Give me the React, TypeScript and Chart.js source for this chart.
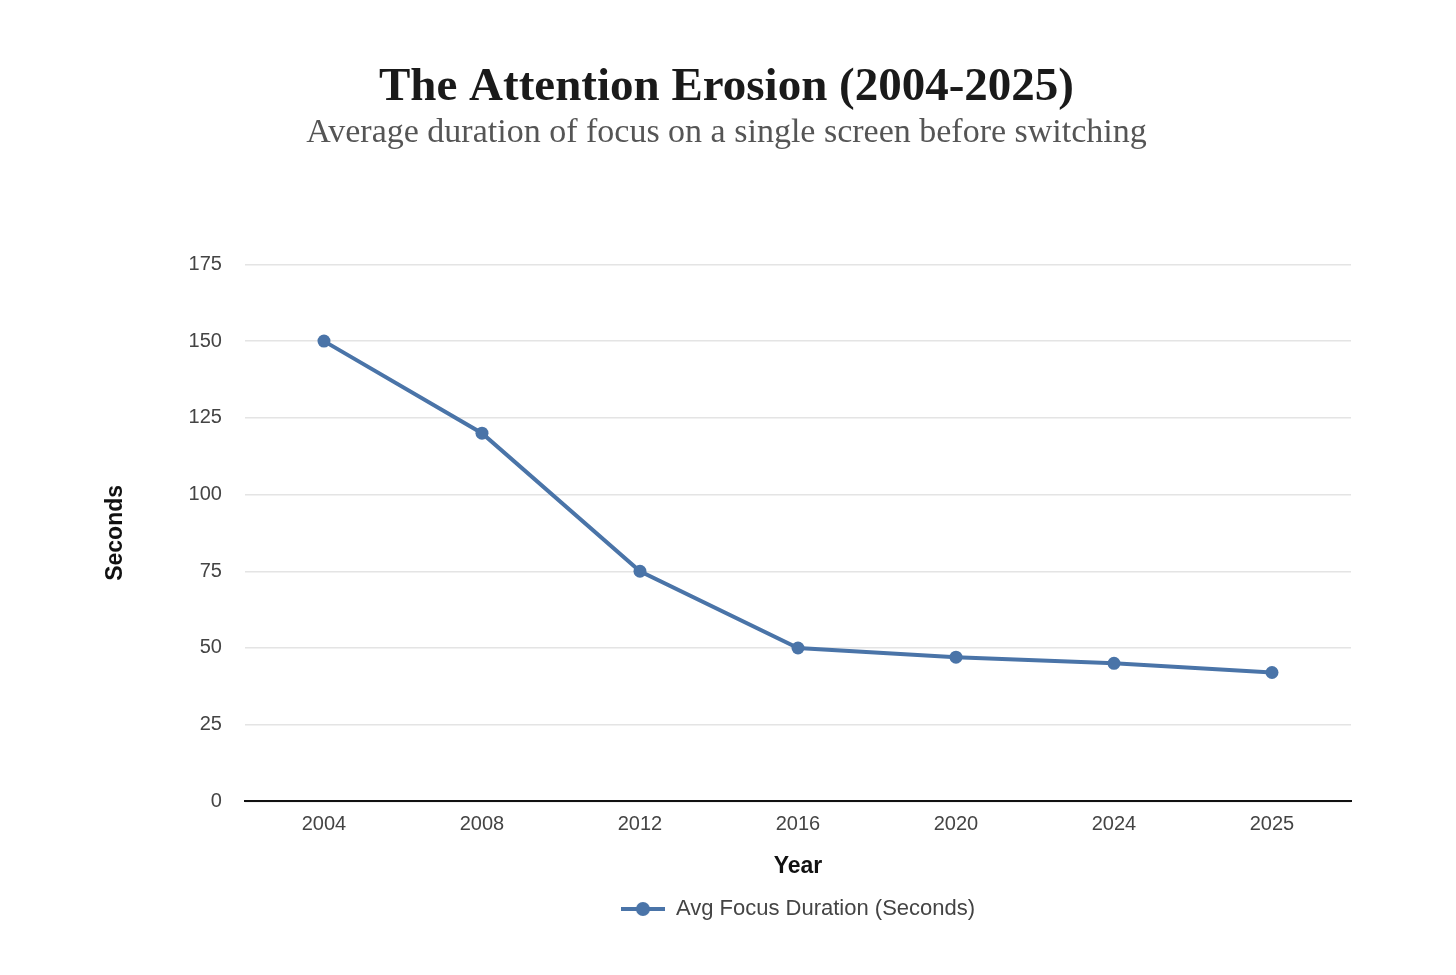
import React, { useEffect, useRef } from "react";
import { Chart, registerables } from "chart.js";

Chart.register(...registerables);

const years = ["2004", "2008", "2012", "2016", "2020", "2024", "2025"];
const focusSeconds = [150, 120, 75, 50, 47, 45, 42];
const seriesLabel = "Avg Focus Duration (Seconds)";
const titleText = "The Attention Erosion (2004-2025)";
const subtitleText = "Average duration of focus on a single screen before switching";
const yMin = 0;
const yMax = 175;
const yStep = 25;

const LINE = "#4a74a8";
const SANS = "'Liberation Sans', Arial, sans-serif";
const SERIF = "'Liberation Serif', serif";

function makeLegendIcon(): HTMLCanvasElement {
  const c = document.createElement("canvas");
  c.width = 44;
  c.height = 16;
  const ctx = c.getContext("2d")!;
  ctx.strokeStyle = LINE;
  ctx.lineWidth = 4;
  ctx.beginPath();
  ctx.moveTo(0, 8);
  ctx.lineTo(44, 8);
  ctx.stroke();
  ctx.fillStyle = LINE;
  ctx.beginPath();
  ctx.arc(22, 8, 7, 0, Math.PI * 2);
  ctx.fill();
  return c;
}

export default function App() {
  const ref = useRef<HTMLCanvasElement | null>(null);

  useEffect(() => {
    if (!ref.current) return;
    const icon = makeLegendIcon();
    const chart = new Chart(ref.current, {
      type: "line",
      data: {
        labels: years,
        datasets: [
          {
            label: seriesLabel,
            data: focusSeconds,
            borderColor: LINE,
            backgroundColor: LINE,
            borderWidth: 4,
            pointRadius: 6.5,
            pointBackgroundColor: LINE,
            pointBorderColor: LINE,
            pointBorderWidth: 0,
            tension: 0,
            fill: false,
          },
        ],
      },
      options: {
        animation: false,
        responsive: false,
        maintainAspectRatio: false,
        layout: { padding: { left: 102, right: 105, top: 0, bottom: 45 } },
        plugins: {
          title: {
            display: true,
            text: titleText,
            color: "#1a1a1a",
            font: { family: SERIF, size: 47, weight: "bold", lineHeight: 1.2 },
            padding: { top: 60, bottom: 0 },
          },
          subtitle: {
            display: true,
            text: subtitleText,
            color: "#555555",
            font: { family: SERIF, size: 34, weight: "normal", lineHeight: 1.0 },
            padding: { top: 0, bottom: 114 },
          },
          legend: {
            display: true,
            position: "bottom",
            fullSize: false,
            labels: {
              color: "#444444",
              font: { family: SANS, size: 22 },
              usePointStyle: true,
              pointStyleWidth: 44,
              padding: 10,
              generateLabels: (ch: any) =>
                ch.data.datasets.map((ds: any, i: number) => ({
                  text: ds.label,
                  fillStyle: LINE,
                  strokeStyle: LINE,
                  lineWidth: 0,
                  pointStyle: icon,
                  hidden: false,
                  datasetIndex: i,
                  fontColor: "#444444",
                })),
            },
          },
          tooltip: { enabled: false },
        },
        scales: {
          x: {
            offset: true,
            grid: { display: false, drawTicks: false },
            border: { display: true, color: "#111111", width: 2 },
            ticks: {
              color: "#444444",
              font: { family: SANS, size: 20 },
              padding: 11,
            },
            title: {
              display: true,
              text: "Year",
              color: "#111111",
              font: { family: SANS, size: 23, weight: "bold" },
              padding: { top: 5, bottom: 8 },
            },
          },
          y: {
            min: yMin,
            max: yMax,
            grid: { color: "#e4e4e4", lineWidth: 1.5, drawTicks: false },
            border: { display: false },
            ticks: {
              stepSize: yStep,
              color: "#444444",
              font: { family: SANS, size: 20 },
              padding: 23,
            },
            title: {
              display: true,
              text: "Seconds",
              color: "#111111",
              font: { family: SANS, size: 23, weight: "bold" },
              padding: { top: 0, bottom: 36 },
            },
          },
        },
      },
    });
    return () => chart.destroy();
  }, []);

  return (
    <div style={{ position: "fixed", left: 0, top: 0, width: 1456, height: 975, background: "#fff" }}>
      <canvas ref={ref} width={1456} height={975} style={{ width: 1456, height: 975 }} />
    </div>
  );
}
